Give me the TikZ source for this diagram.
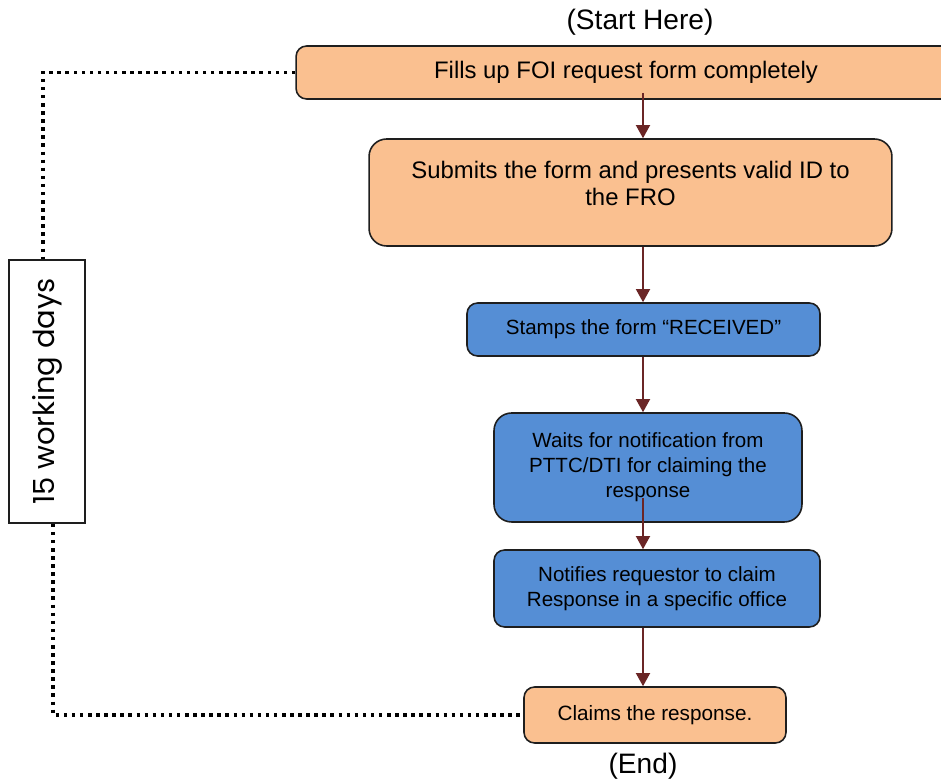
\documentclass[tikz,border=0pt]{standalone}
\usepackage{fontspec}
\setmainfont{Liberation Sans}
\newfontfamily\gothic{Poppins}
\usetikzlibrary{arrows.meta}
\definecolor{formorange}{HTML}{FAC090}
\definecolor{officeblue}{HTML}{558ED5}
\definecolor{arrowred}{HTML}{6B2626}
\definecolor{edge}{HTML}{1E1E1E}

\begin{document}
\begin{tikzpicture}[x=0.02cm, y=-0.02cm, >={Triangle[width=8pt,length=7.5pt]},
  box/.style={draw=edge, line width=0.9pt, rounded corners=6pt, inner sep=0pt, align=center},
  orangebox/.style={box, fill=formorange},
  bluebox/.style={box, fill=officeblue, font=\fontsize{11.7}{14.2}\selectfont},
  flow/.style={->, arrowred, line width=1pt},
  timeline/.style={line width=1.8pt, dash pattern=on 2pt off 2.6pt}]
\useasboundingbox (0,0) rectangle (941,783);
\coordinate (col) at (643,0);
\node at (640,22) {\fontsize{16}{19}\selectfont (Start Here)};
\node[orangebox, minimum width=13.2cm, minimum height=1.06cm, font=\fontsize{13.6}{15.4}\selectfont] (fill) at (626,72.5) {Fills up FOI request form completely};
\node[orangebox, rounded corners=10pt, minimum width=10.46cm, minimum height=2.14cm] (submit) at (630.5,192.5) {};
\node[align=center, font=\fontsize{13.6}{15.4}\selectfont] at (630.5,183) {Submits the form and presents valid ID to\\the FRO};
\node[bluebox, minimum width=7.06cm, minimum height=1.06cm] (stamp) at (643.5,329.5) {Stamps the form “RECEIVED”};
\node[bluebox, rounded corners=10pt, minimum width=6.16cm, minimum height=2.18cm] (wait) at (648,467.5) {Waits for notification from\\PTTC/DTI for claiming the\\response};
\node[bluebox, minimum width=6.52cm, minimum height=1.54cm] (notify) at (657,588.5) {Notifies requestor to claim\\Response in a specific office};
\node[orangebox, minimum width=5.24cm, minimum height=1.12cm, font=\fontsize{11.8}{14}\selectfont] (claim) at (655,715) {Claims the response.};
\node at (643,766) {\fontsize{16}{19}\selectfont (End)};
\node[draw=edge, line width=0.9pt, fill=white, rotate=90, inner sep=0pt, minimum width=5.26cm, minimum height=1.52cm, font=\gothic\fontsize{16.5}{18}\selectfont] (days) at (47,391.5) {15 working days};
% steps
\draw[flow] ([yshift=4pt]fill.south -| col) -- (submit.north -| col);
\draw[flow] (submit.south -| col) -- (stamp.north -| col);
\draw[flow] (stamp.south -| col) -- (wait.north -| col);
\draw[flow] ([yshift=14pt]wait.south -| col) -- (notify.north -| col);
\draw[flow] (notify.south -| col) -- (claim.north -| col);
% time frame
\draw[timeline] (fill.west) -| ([xshift=-2.3pt]days.east);
\draw[timeline] ([xshift=3.4pt]days.west) |- (claim.west);
\end{tikzpicture}
\end{document}
